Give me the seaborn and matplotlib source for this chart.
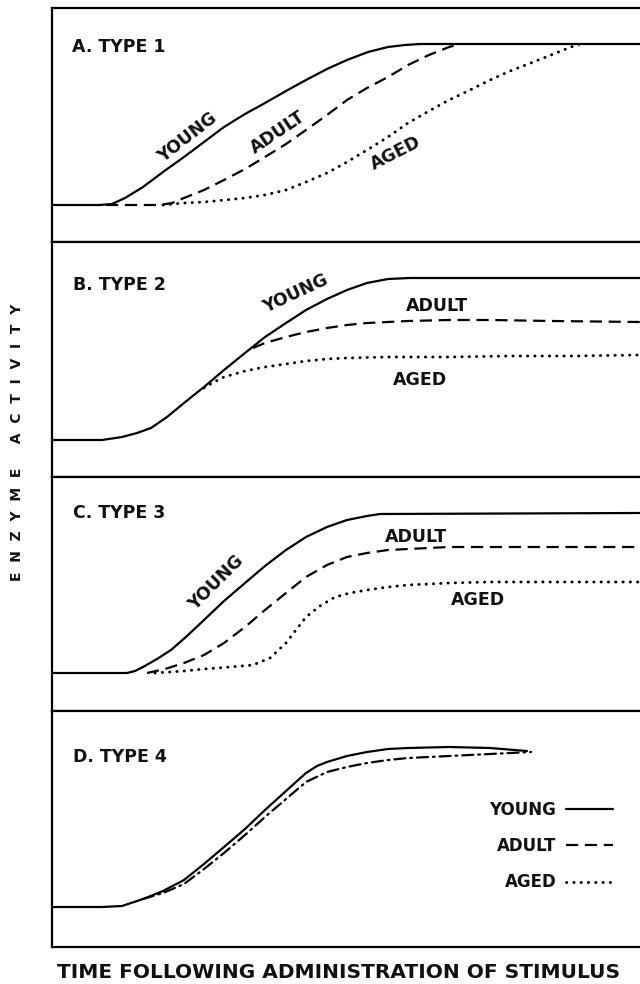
import matplotlib
matplotlib.use("Agg")
import matplotlib.pyplot as plt
from matplotlib.lines import Line2D
import seaborn as sns
import pandas as pd

# ---------------- data (time units, activity units per panel) ----------------
# Panel A - Type 1
a_young_t = [0, 48, 60, 73, 91, 111, 132, 152, 172, 193, 213, 234, 254, 275, 295, 316, 336, 353, 368, 448, 588]
a_young_v = [37, 37, 38, 44, 55, 70, 85, 100, 115, 128, 139, 151, 162, 173, 182, 190, 195, 197, 198, 198, 198]
a_adult_t = [54, 108, 120, 132, 152, 172, 193, 213, 234, 254, 275, 295, 315, 336, 356, 377, 397, 408]
a_adult_v = [37, 37, 39, 44, 52, 62, 73, 85, 98, 112, 127, 142, 154, 165, 177, 187, 195, 198]
a_aged_t = [111, 132, 152, 173, 193, 213, 234, 254, 275, 295, 315, 336, 356, 377, 397, 418, 438, 458, 479, 499, 519, 528]
a_aged_v = [37, 39, 40, 42, 44, 47, 52, 60, 69, 80, 92, 105, 119, 131, 142, 152, 162, 171, 179, 187, 195, 198]

# Panel B - Type 2
b_young_t = [0, 50, 70, 85, 99, 115, 132, 152, 172, 193, 213, 234, 254, 275, 295, 315, 336, 358, 588]
b_young_v = [37, 37, 40, 44, 49, 60, 74, 90, 107, 124, 140, 154, 167, 178, 187, 194, 198, 199, 199]
b_adult_t = [201, 213, 234, 254, 275, 295, 315, 336, 356, 397, 438, 499, 588]
b_adult_v = [129, 134, 140, 145, 149, 152, 154, 155, 156, 157, 157, 156, 155]
b_aged_t = [152, 162, 172, 193, 213, 234, 254, 275, 295, 336, 397, 458, 519, 588]
b_aged_v = [89, 95, 100, 106, 110, 113, 116, 118, 119, 120, 120, 121, 121, 122]

# Panel C - Type 3
c_young_t = [0, 75, 83, 91, 105, 119, 135, 152, 172, 193, 213, 234, 254, 275, 295, 315, 328, 588]
c_young_v = [38, 38, 40, 44, 52, 61, 75, 91, 110, 128, 145, 161, 174, 184, 191, 195, 197, 198]
c_adult_t = [95, 113, 132, 152, 172, 193, 213, 234, 254, 275, 295, 315, 336, 397, 499, 588]
c_adult_v = [38, 42, 48, 56, 68, 84, 101, 118, 134, 146, 154, 158, 161, 164, 164, 164]
c_aged_t = [103, 132, 152, 178, 201, 218, 234, 244, 254, 268, 283, 298, 315, 336, 356, 397, 438, 588]
c_aged_v = [38, 40, 42, 44, 46, 53, 68, 81, 94, 105, 114, 118, 121, 124, 126, 128, 129, 129]

# Panel D - Type 4
d_young_t = [0, 50, 70, 91, 111, 132, 152, 172, 193, 213, 234, 254, 265, 275, 295, 315, 336, 356, 397, 438, 475]
d_young_v = [40, 40, 41, 48, 56, 67, 83, 100, 118, 137, 156, 174, 181, 185, 191, 195, 198, 199, 200, 199, 196]
d_other_t = [91, 111, 132, 152, 172, 193, 213, 234, 254, 275, 295, 315, 336, 356, 397, 438, 479]
d_other_v = [48, 54, 63, 78, 94, 112, 130, 148, 165, 175, 180, 184, 187, 189, 191, 193, 195]

panel_titles = ["A. TYPE 1", "B. TYPE 2", "C. TYPE 3", "D. TYPE 4"]
legend_labels = ["YOUNG", "ADULT", "AGED"]
x_label = "TIME FOLLOWING ADMINISTRATION OF STIMULUS"
y_label = "E  N  Z  Y  M  E     A  C  T  I  V  I  T  Y"

# ---------------- style ----------------
sns.set_theme(style="white")
plt.rcParams["font.family"] = ["DejaVu Sans"]
plt.rcParams["font.weight"] = "bold"

W, H = 640, 984
fig = plt.figure(figsize=(W / 100, H / 100), dpi=100)
fig.patch.set_facecolor("white")

tops = [8, 242, 477, 711]
bottoms = [242, 477, 711, 947]
left_px, right_px = 52, 660

LW = 1.6
solid = dict(color="black", lw=LW, linestyle="-", solid_capstyle="round")
dashed = dict(color="black", lw=LW, linestyle=(0, (5.5, 3)), dash_capstyle="butt")
dotted = dict(color="black", lw=2.1, linestyle=(0, (0.1, 2.4)), dash_capstyle="round")
dashdot = dict(color="black", lw=LW, linestyle=(0, (5, 2.2, 0.8, 2.2)), dash_capstyle="round")

axes = []
for top, bot in zip(tops, bottoms):
    ax = fig.add_axes([left_px / W, (H - bot) / H, (right_px - left_px) / W, (bot - top) / H])
    ax.set_xlim(0, right_px - left_px)
    ax.set_ylim(0, bot - top)
    ax.set_xticks([])
    ax.set_yticks([])
    ax.set_facecolor("white")
    for s in ax.spines.values():
        s.set_color("black")
        s.set_linewidth(1.6)
        s.set_visible(True)
    axes.append(ax)


def draw(ax, t, v, style):
    df = pd.DataFrame({"t": t, "v": v})
    sns.lineplot(data=df, x="t", y="v", ax=ax, estimator=None, sort=False, **style)
    ax.set_xlabel("")
    ax.set_ylabel("")


series = [
    [(a_young_t, a_young_v, solid), (a_adult_t, a_adult_v, dashed), (a_aged_t, a_aged_v, dotted)],
    [(b_young_t, b_young_v, solid), (b_adult_t, b_adult_v, dashed), (b_aged_t, b_aged_v, dotted)],
    [(c_young_t, c_young_v, solid), (c_adult_t, c_adult_v, dashed), (c_aged_t, c_aged_v, dotted)],
    [(d_young_t, d_young_v, solid), (d_other_t, d_other_v, dashdot)],
]
for ax, group in zip(axes, series):
    for t, v, st in group:
        draw(ax, t, v, st)

FS = 12.5
tkw = dict(fontsize=FS, fontweight="bold", color="#111111")

axes[0].text(20, 195, panel_titles[0], ha="left", va="center", **tkw)
axes[1].text(21, 192, panel_titles[1], ha="left", va="center", **tkw)
axes[2].text(21, 198, panel_titles[2], ha="left", va="center", **tkw)
axes[3].text(21, 190, panel_titles[3], ha="left", va="center", **tkw)

# curve labels
axes[0].text(136, 104, "YOUNG", rotation=38, ha="center", va="center", **tkw)
axes[0].text(226, 110, "ADULT", rotation=34, ha="center", va="center", **tkw)
axes[0].text(344, 89, "AGED", rotation=27, ha="center", va="center", **tkw)

axes[1].text(244, 183, "YOUNG", rotation=25, ha="center", va="center", **tkw)
axes[1].text(385, 171, "ADULT", rotation=0, ha="center", va="center", **tkw)
axes[1].text(368, 97, "AGED", rotation=0, ha="center", va="center", **tkw)

axes[2].text(164, 128, "YOUNG", rotation=45, ha="center", va="center", **tkw)
axes[2].text(364, 174, "ADULT", rotation=0, ha="center", va="center", **tkw)
axes[2].text(426, 111, "AGED", rotation=0, ha="center", va="center", **tkw)

# legend in panel D
handles = [Line2D([], [], **solid), Line2D([], [], **dashed), Line2D([], [], **dotted)]
leg = axes[3].legend(handles, legend_labels, markerfirst=False, frameon=False,
                     loc="center right", bbox_to_anchor=(613 / W, 1 - 846 / H),
                     bbox_transform=fig.transFigure, borderpad=0, borderaxespad=0,
                     handlelength=2.8, handletextpad=0.6, labelspacing=1.1,
                     prop=dict(size=12, weight="bold"))
for t in leg.get_texts():
    t.set_color("#111111")

fig.text(339 / W, 1 - 972 / H, x_label, ha="center", va="center",
         fontsize=14.5, fontweight="bold", color="#111111")
fig.text(17 / W, 1 - 442 / H, y_label, ha="center", va="center", rotation=90,
         fontsize=10, fontweight="bold", color="#111111")

fig.savefig("out.png", dpi=100, facecolor="white")
